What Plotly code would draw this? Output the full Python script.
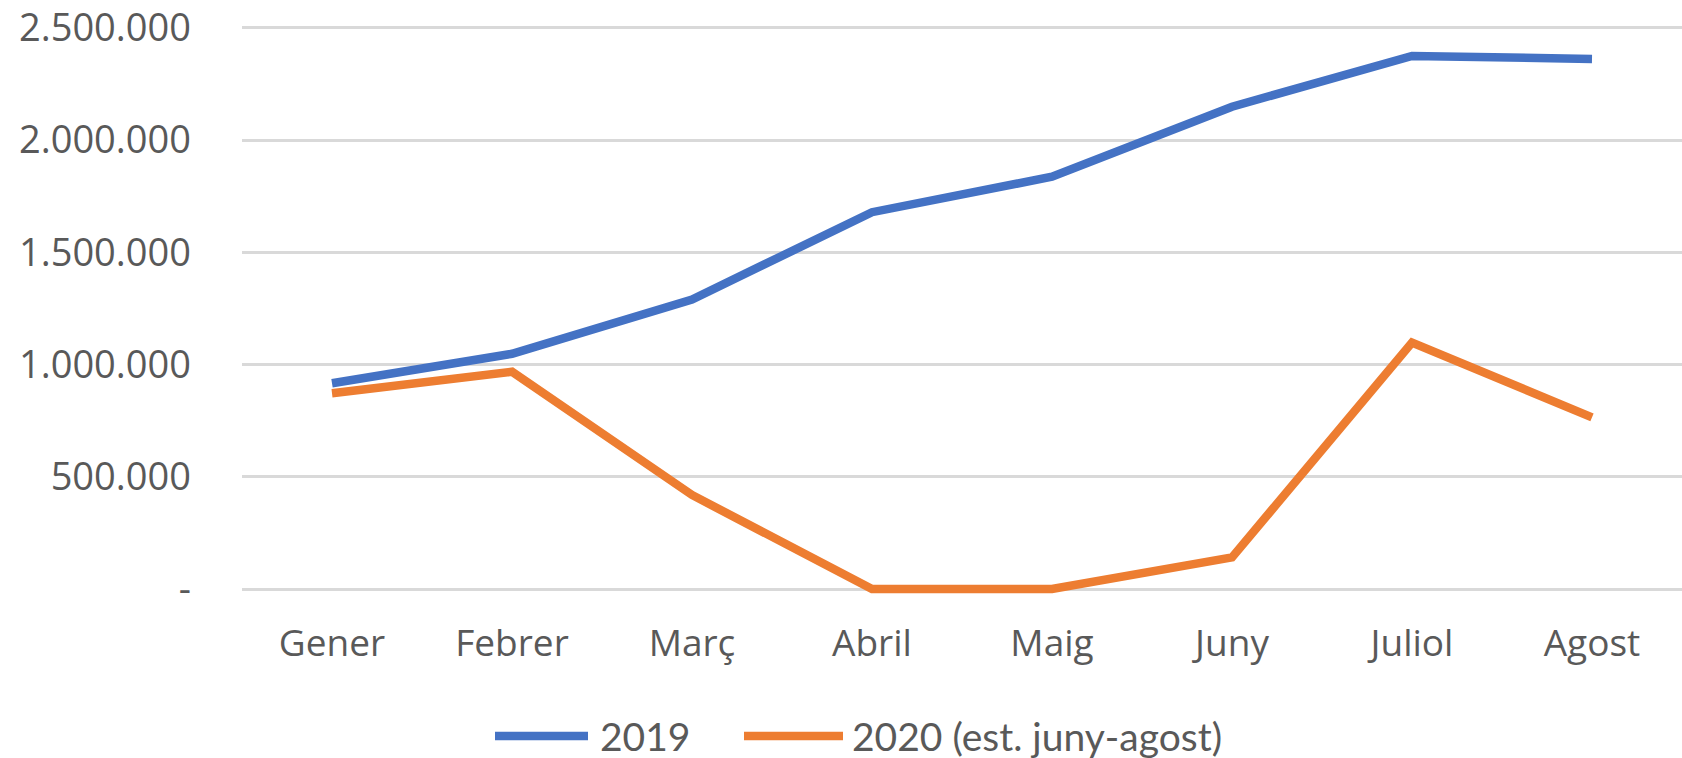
import plotly.graph_objects as go

months = ["Gener", "Febrer", "Març", "Abril", "Maig", "Juny", "Juliol", "Agost"]
values_2019 = [917000, 1048000, 1290000, 1679000, 1837000, 2149000, 2375000, 2362000]
values_2020 = [872000, 968000, 419000, 0, 0, 141000, 1098000, 765000]
series_names = ["2019", "2020 (est. juny-agost)"]
ytick_vals = [0, 500000, 1000000, 1500000, 2000000, 2500000]
ytick_text = ["-", "500.000", "1.000.000", "1.500.000", "2.000.000", "2.500.000"]

BLUE = "#4472C4"
ORANGE = "#ED7D31"
TXT = "#595959"

fig = go.Figure()
for name, vals, col in [(series_names[0], values_2019, BLUE), (series_names[1], values_2020, ORANGE)]:
    fig.add_trace(go.Scatter(
        x=months, y=vals, mode="lines", name=name,
        line=dict(color=col, width=8.5),
        showlegend=False,
    ))

# body margin is removed via post_script, so figure pixels == page pixels
W, H = 1682, 758
L, R, T, B = 242, 0, 10, 758 - 600
pw, ph = W - L - R, H - T - B

def px_x(p):
    return (p - L) / pw

def px_y(p):
    return (H - B - p) / ph

# custom legend (Excel style long line keys)
leg_y = 736
legend_items = [
    (series_names[0], BLUE, 495, 588, 598),
    (series_names[1], ORANGE, 744, 843, 850),
]
for text, col, x0, x1, tx in legend_items:
    fig.add_shape(type="line", xref="paper", yref="paper",
                  x0=px_x(x0), x1=px_x(x1), y0=px_y(leg_y), y1=px_y(leg_y),
                  line=dict(color=col, width=8.5))
    fig.add_annotation(xref="paper", yref="paper", x=px_x(tx), y=px_y(leg_y),
                       text=text, showarrow=False, xanchor="left", yanchor="middle",
                       font=dict(family="Lato", size=39, color=TXT))

fig.update_layout(
    width=W, height=H,
    margin=dict(l=L, r=R, t=T, b=B, pad=0, autoexpand=False),
    paper_bgcolor="white", plot_bgcolor="white",
    font=dict(family="Open Sans", color=TXT),
    hovermode=False,
    xaxis=dict(
        type="category", range=[-0.5, 7.5], showgrid=False, zeroline=False,
        showline=False, ticks="", ticklabelstandoff=18, automargin=False,
        tickfont=dict(family="Open Sans", size=37, color=TXT),
    ),
    yaxis=dict(
        range=[-49000, 2580000], tickvals=ytick_vals, ticktext=ytick_text,
        showgrid=True, gridcolor="#D9D9D9", gridwidth=2.5, zeroline=False,
        showline=False, ticks="", ticklabelstandoff=50, automargin=False,
        ticklabeloverflow="allow",
        tickfont=dict(family="Open Sans", size=38, color=TXT),
    ),
)

fig.write_html(
    "out.html",
    config={"displayModeBar": False},
    post_script="document.body.style.margin='0';document.body.style.overflow='hidden';",
)
